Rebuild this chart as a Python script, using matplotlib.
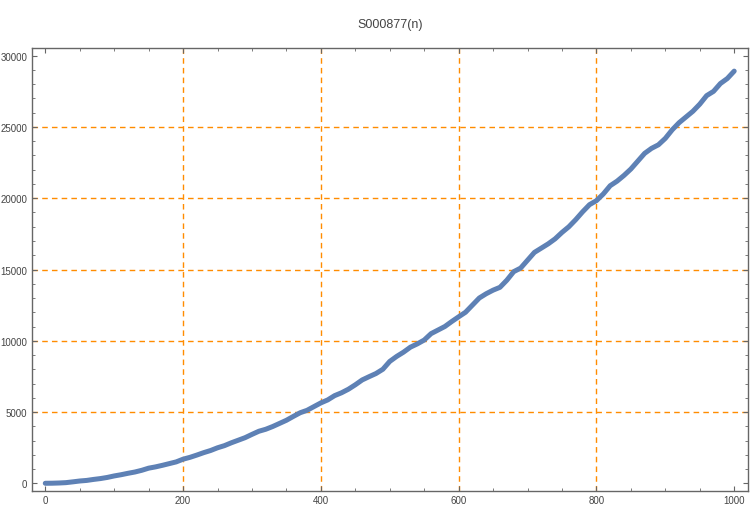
import numpy as np
import matplotlib.pyplot as plt
from matplotlib.ticker import MultipleLocator

# S000877(n), values every 10 steps of n
n_vals = list(range(0, 1001, 10))
s_vals = [
    0, 5, 20, 45, 100, 160, 200, 270, 330, 410,
    515, 600, 700, 790, 910, 1060, 1150, 1260, 1380, 1500,
    1690, 1820, 1980, 2150, 2300, 2490, 2640, 2840, 3020, 3200,
    3430, 3650, 3790, 3980, 4200, 4420, 4690, 4950, 5120, 5380,
    5640, 5850, 6150, 6350, 6600, 6910, 7250, 7480, 7700, 8000,
    8550, 8900, 9200, 9550, 9780, 10050, 10500, 10750, 11000, 11350,
    11680, 12000, 12500, 13000, 13300, 13550, 13750, 14250, 14850, 15100,
    15650, 16200, 16500, 16800, 17150, 17600, 18000, 18500, 19050, 19550,
    19830, 20300, 20880, 21200, 21600, 22050, 22600, 23150, 23500, 23750,
    24200, 24800, 25300, 25700, 26100, 26600, 27200, 27500, 28050, 28400,
    28920,
]
x_grid = [200, 400, 600, 800]
y_grid = [5000, 10000, 15000, 20000, 25000]

plt.rcParams['font.family'] = ['Liberation Sans', 'DejaVu Sans']

fig = plt.figure(figsize=(7.5, 5.1), dpi=100)
ax = fig.add_axes([0.042, 0.0359, 0.9553, 0.8674])

# orange dashed grid lines
for gx in x_grid:
    ax.axvline(gx, color='#FF8C00', lw=1.0, dashes=(4, 3), zorder=1)
for gy in y_grid:
    ax.axhline(gy, color='#FF8C00', lw=1.0, dashes=(4, 3), zorder=1)

ax.plot(n_vals, s_vals, color='#5E81B5', lw=3.6, solid_capstyle='round',
        solid_joinstyle='round', zorder=3)

ax.set_xlim(-20, 1020)
ax.set_ylim(-520, 30520)

ax.xaxis.set_major_locator(MultipleLocator(200))
ax.xaxis.set_minor_locator(MultipleLocator(50))
ax.yaxis.set_major_locator(MultipleLocator(5000))
ax.yaxis.set_minor_locator(MultipleLocator(1000))

ax.tick_params(which='both', direction='in', top=True, right=True,
               color='#666666', labelcolor='#444444', labelsize=7, pad=3)
ax.tick_params(which='major', length=3.5, width=0.8)
ax.tick_params(which='minor', length=2.2, width=0.6)

for sp in ax.spines.values():
    sp.set_color('#666666')
    sp.set_linewidth(1.0)

fig.text(0.52, 0.951, 'S000877(n)', ha='center', va='center',
         fontsize=9, color='#444444')

fig.savefig('out.png', dpi=100)
